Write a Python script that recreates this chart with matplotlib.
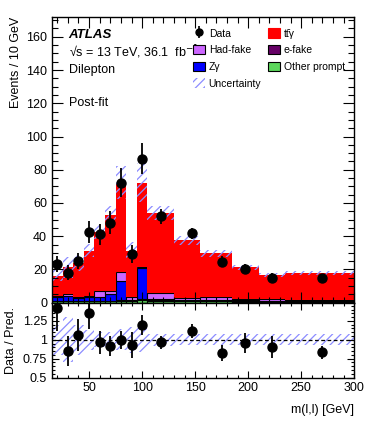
# ATLAS-style m(l,l) distribution, dilepton channel, post-fit, with data/prediction ratio
import numpy as np
import matplotlib.pyplot as plt
from matplotlib.patches import Patch
from matplotlib.lines import Line2D
from matplotlib.ticker import MultipleLocator

plt.rcParams['font.family'] = ['Liberation Sans', 'DejaVu Sans']
plt.rcParams['hatch.linewidth'] = 0.9

# bin edges in GeV
edges = [15, 25, 35, 45, 55, 65, 75, 85, 95, 105, 130, 155, 185, 210, 235, 300]

# stacked predictions, events / 10 GeV (bottom to top)
other_prompt = [0.8, 0.8, 0.8, 0.8, 0.9, 1.0, 1.0, 1.2, 1.8, 1.2, 1.0, 0.8, 0.6, 0.5, 0.4]
e_fake = [0.3, 0.3, 0.3, 0.3, 0.3, 0.3, 0.4, 0.3, 0.3, 0.4, 0.4, 0.4, 0.3, 0.3, 0.3]
z_gamma = [2.1, 2.8, 1.5, 2.1, 2.4, 3.7, 11.6, 0.3, 18.6, 0.6, 0.4, 0.4, 0.5, 0.4, 0.5]
had_fake = [0.7, 1.1, 0.6, 0.7, 3.4, 2.0, 5.7, 1.8, 0.8, 3.5, 1.2, 1.8, 0.8, 1.0, 0.2]
ttgamma = [12.4, 16.3, 20.5, 27.4, 35.5, 45.8, 53.6, 27.7, 50.8, 48.1, 34.6, 26.3, 19.1, 14.5, 16.7]

# relative uncertainty on the total prediction
rel_unc = [0.2, 0.3, 0.2, 0.13, 0.1, 0.1, 0.14, 0.17, 0.16, 0.08, 0.07, 0.07, 0.07, 0.07, 0.07]

# data
data_x = [20, 30, 40, 50, 60, 70, 80, 90, 100, 117.5, 147.5, 175, 197.5, 222.5, 270]
data_y = [23.1, 18.1, 25.1, 42.4, 41.2, 48.2, 72.3, 29.1, 86.5, 52.0, 41.8, 24.5, 20.5, 15.1, 15.1]
data_err = [4.8, 4.3, 5.0, 6.5, 6.4, 6.9, 8.5, 5.4, 9.3, 4.6, 3.4, 3.3, 2.8, 2.5, 1.6]

edges = np.array(edges, dtype=float)
left = edges[:-1]
width = np.diff(edges)

components = [
    (other_prompt, '#5cd65c', 'black'),
    (e_fake, '#660066', 'black'),
    (z_gamma, '#0000ff', 'black'),
    (had_fake, '#cc66ff', 'black'),
    (ttgamma, '#ff0000', 'none'),
]
unc_color = '#8c8cff'

fig = plt.figure(figsize=(3.74, 4.21), dpi=100)
ax = fig.add_axes([0.139, 0.281, 0.808, 0.679])
rax = fig.add_axes([0.139, 0.103, 0.808, 0.178], sharex=ax)

# stacked histogram
bottom = np.zeros(len(left))
for vals, col, ec in components:
    vals = np.array(vals)
    ax.bar(left, vals, width=width, bottom=bottom, align='edge', color=col,
           edgecolor=ec, linewidth=0.8 if ec != 'none' else 0)
    bottom = bottom + vals
total = bottom
rel = np.array(rel_unc)

# uncertainty band
ax.bar(left, 2 * total * rel, width=width, bottom=total * (1 - rel), align='edge',
       fill=False, hatch='////', edgecolor=unc_color, linewidth=0)

# data points
ax.errorbar(data_x, data_y, yerr=data_err, fmt='o', color='black', markersize=6.5,
            elinewidth=1.3, capsize=0, zorder=5)

ax.set_xlim(15, 300)
ax.set_ylim(0, 172)
ax.set_ylabel('Events / 10 GeV', fontsize=9, loc='top')
ax.yaxis.set_label_coords(-0.1, 1.0)
ax.yaxis.set_major_locator(MultipleLocator(20))
ax.yaxis.set_minor_locator(MultipleLocator(5))
ax.xaxis.set_major_locator(MultipleLocator(50))
ax.xaxis.set_minor_locator(MultipleLocator(10))
ax.tick_params(axis='x', labelbottom=False)

# ratio panel
idx = np.searchsorted(edges, data_x) - 1
ratio = np.array(data_y) / total[idx]
ratio_err = np.array(data_err) / total[idx]
rax.bar(left, 2 * rel, width=width, bottom=1 - rel, align='edge', fill=False,
        hatch='////', edgecolor=unc_color, linewidth=0)
rax.axhline(1, color='black', linestyle=(0, (3, 2)), linewidth=0.9)
rax.errorbar(data_x, ratio, yerr=ratio_err, fmt='o', color='black', markersize=6.5,
             elinewidth=1.3, capsize=0, zorder=5)
rax.set_ylim(0.5, 1.49)
rax.set_yticks([0.5, 0.75, 1, 1.25])
rax.set_yticklabels(['0.5', '0.75', '1', '1.25'])
rax.yaxis.set_minor_locator(MultipleLocator(0.05))
rax.set_ylabel('Data / Pred.', fontsize=9)
rax.yaxis.set_label_coords(-0.117, 0.5)
rax.set_xlabel('m(l,l) [GeV]', fontsize=9, loc='right', labelpad=7)

for a in (ax, rax):
    a.tick_params(which='both', direction='in', top=True, right=True, labelsize=9, width=0.8)
    a.tick_params(which='major', length=8)
    a.tick_params(which='minor', length=4)
    for s in a.spines.values():
        s.set_linewidth(1.0)
rax.tick_params(which='major', length=5)
rax.tick_params(which='minor', length=2.5)

# labels
ax.text(0.055, 0.935, 'ATLAS', transform=ax.transAxes, fontsize=9.5, fontweight='bold',
        fontstyle='italic', va='center')
ax.text(0.055, 0.876, '√s = 13 TeV, 36.1  fb$^{-1}$', transform=ax.transAxes, fontsize=9,
        va='center')
ax.text(0.055, 0.815, 'Dilepton', transform=ax.transAxes, fontsize=9, va='center')
ax.text(0.055, 0.70, 'Post-fit', transform=ax.transAxes, fontsize=9, va='center')

data_handle = (Line2D([], [], marker='|', color='black', linestyle='none', markersize=9,
                      markeredgewidth=1.2),
               Line2D([], [], marker='o', color='black', linestyle='none', markersize=5))
handles = [
    data_handle,
    Patch(facecolor='#cc66ff', edgecolor='black', linewidth=0.8),
    Patch(facecolor='#0000ff', edgecolor='black', linewidth=0.8),
    Patch(facecolor='none', edgecolor=unc_color, hatch='////', linewidth=0),
    Patch(facecolor='#ff0000', edgecolor='#ff0000', linewidth=0.8),
    Patch(facecolor='#660066', edgecolor='black', linewidth=0.8),
    Patch(facecolor='#5cd65c', edgecolor='black', linewidth=0.8),
]
labels = ['Data', 'Had-fake', 'Zγ', 'Uncertainty', 'tt\u0304γ', 'e-fake', 'Other prompt']
ax.legend(handles, labels, ncol=2, loc='upper left', bbox_to_anchor=(0.465, 0.96),
          frameon=False, fontsize=7.5, handlelength=1.2, handleheight=1.0,
          handletextpad=0.35, columnspacing=0.6, labelspacing=0.62, borderpad=0,
          borderaxespad=0)

plt.savefig('out.png', dpi=100)
